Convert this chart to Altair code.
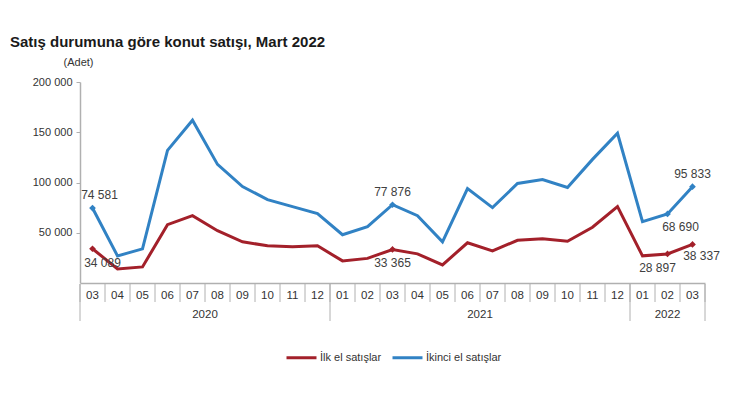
import altair as alt
import pandas as pd

# --- data ---
aylar = ["03", "04", "05", "06", "07", "08", "09", "10", "11", "12",
         "01", "02", "03", "04", "05", "06", "07", "08", "09", "10", "11", "12",
         "01", "02", "03"]
yillar = ["2020"] * 10 + ["2021"] * 12 + ["2022"] * 3

ilk_el = [34089, 14000, 16000, 58000, 67000, 52000, 41000, 37000, 36000, 37000,
          22000, 24500, 33365, 29000, 18000, 40000, 32000, 42500, 44000, 41500, 55500, 76000,
          27000, 28897, 38337]
ikinci_el = [74581, 27000, 34000, 132000, 162000, 118000, 96000, 83000, 76000, 69000,
             48000, 56000, 77876, 67000, 41000, 94000, 75000, 99000, 103000, 95000, 123000, 149000,
             61000, 68690, 95833]

SERI = ["İlk el satışlar", "İkinci el satışlar"]
RENK = ["#a3202a", "#3182c4"]

# labelled points: (series, index, dx, dy)
etiketler = [
    (SERI[1], 0, 7, -13),
    (SERI[0], 0, 10, 14),
    (SERI[1], 12, 0, -13),
    (SERI[0], 12, 0, 14),
    (SERI[1], 23, 13, 13),
    (SERI[1], 24, 0, -13),
    (SERI[0], 23, -10, 14),
    (SERI[0], 24, 9, 12),
]

W, H = 625, 201
FONT = "Liberation Sans"

# --- tidy tables ---
rows = []
for i, (a, y) in enumerate(zip(aylar, yillar)):
    rows.append({"i": i, "pos": i + 0.5, "ay": a, "yil": y, "seri": SERI[0], "deger": ilk_el[i]})
    rows.append({"i": i, "pos": i + 0.5, "ay": a, "yil": y, "seri": SERI[1], "deger": ikinci_el[i]})
df = pd.DataFrame(rows)

months = pd.DataFrame({"pos": [i + 0.5 for i in range(len(aylar))], "ay": aylar})
edges = pd.DataFrame({"kenar": list(range(len(aylar) + 1))})
edges["yil_siniri"] = [k == 0 or k == len(aylar) or yillar[k] != yillar[k - 1] for k in edges["kenar"]]
years = (pd.DataFrame({"i": range(len(aylar)), "yil": yillar})
         .groupby("yil")["i"].agg(["min", "max"]).reset_index())
years["pos"] = (years["min"] + years["max"] + 1) / 2

x_scale = alt.Scale(domain=[0, len(aylar)], nice=False, zero=False)
y_scale = alt.Scale(domain=[0, 200000], nice=False)

x_enc = alt.X("pos:Q", scale=x_scale,
              axis=alt.Axis(title=None, labels=False, ticks=False, grid=False,
                            domainColor="#b0b0b0", domainWidth=1.5))
y_enc = alt.Y("deger:Q", scale=y_scale,
              axis=alt.Axis(values=[50000, 100000, 150000, 200000],
                            labelExpr="replace(format(datum.value, ','), ',', ' ')",
                            grid=False, tickSize=4, tickColor="#b0b0b0",
                            domainColor="#b0b0b0", domainWidth=1.5,
                            labelColor="#333333", labelFontSize=11, labelPadding=4,
                            title="(Adet)", titleAngle=0, titleX=-2, titleY=-15,
                            titleAlign="center", titleFontWeight="normal",
                            titleFontSize=11, titleColor="#333333"))

color = alt.Color("seri:N", scale=alt.Scale(domain=SERI, range=RENK),
                  legend=alt.Legend(title=None, orient="none", direction="horizontal",
                                    legendX=205, legendY=259, symbolType="stroke",
                                    symbolSize=900, symbolStrokeWidth=3,
                                    labelFontSize=11, labelColor="#333333",
                                    columnPadding=4, labelOffset=2))

lines = alt.Chart(df).mark_line(strokeWidth=3).encode(
    x=x_enc, y=y_enc, color=color,
    order="i:Q",
)

layers = [lines]

for seri, idx, dx, dy in etiketler:
    sub = df[(df["seri"] == seri) & (df["i"] == idx)]
    base = alt.Chart(sub).encode(x=alt.X("pos:Q", scale=x_scale),
                                 y=alt.Y("deger:Q", scale=y_scale))
    layers.append(base.mark_point(shape="diamond", filled=True, size=45, opacity=1).encode(
        color=alt.Color("seri:N", scale=alt.Scale(domain=SERI, range=RENK), legend=None)))
    layers.append(base.mark_text(dx=dx, dy=dy, fontSize=12, color="#404040", font=FONT).encode(
        text=alt.Text("deger_txt:N")).transform_calculate(
        deger_txt="replace(format(datum.deger, ','), ',', ' ')"))

# category axis: month row, year row and separators
layers.append(alt.Chart(months).mark_text(fontSize=11.5, color="#333333", font=FONT,
                                          baseline="middle").encode(
    x=alt.X("pos:Q", scale=x_scale), y=alt.value(H + 13), text="ay:N"))
layers.append(alt.Chart(edges).mark_rule(color="#b0b0b0", strokeWidth=1).encode(
    x=alt.X("kenar:Q", scale=x_scale), y=alt.value(H + 1), y2=alt.value(H + 19)))
layers.append(alt.Chart(edges[edges["yil_siniri"]]).mark_rule(color="#b0b0b0", strokeWidth=1).encode(
    x=alt.X("kenar:Q", scale=x_scale), y=alt.value(H + 1), y2=alt.value(H + 38)))
layers.append(alt.Chart(years).mark_text(fontSize=11.5, color="#333333", font=FONT,
                                         baseline="middle").encode(
    x=alt.X("pos:Q", scale=x_scale), y=alt.value(H + 32), text="yil:N"))

chart = alt.layer(*layers).properties(
    width=W, height=H,
    title=alt.TitleParams("Satış durumuna göre konut satışı, Mart 2022",
                          anchor="start", frame="group", dx=-70, offset=6, fontSize=15,
                          fontWeight="bold", color="#1a1a1a", font=FONT),
    autosize=alt.AutoSizeParams(type="none"),
    padding={"left": 72, "top": 74, "right": 17, "bottom": 129},
).configure(font=FONT).configure_view(stroke=None)

chart.save("out.html", embed_options={"renderer": "svg", "actions": False})
